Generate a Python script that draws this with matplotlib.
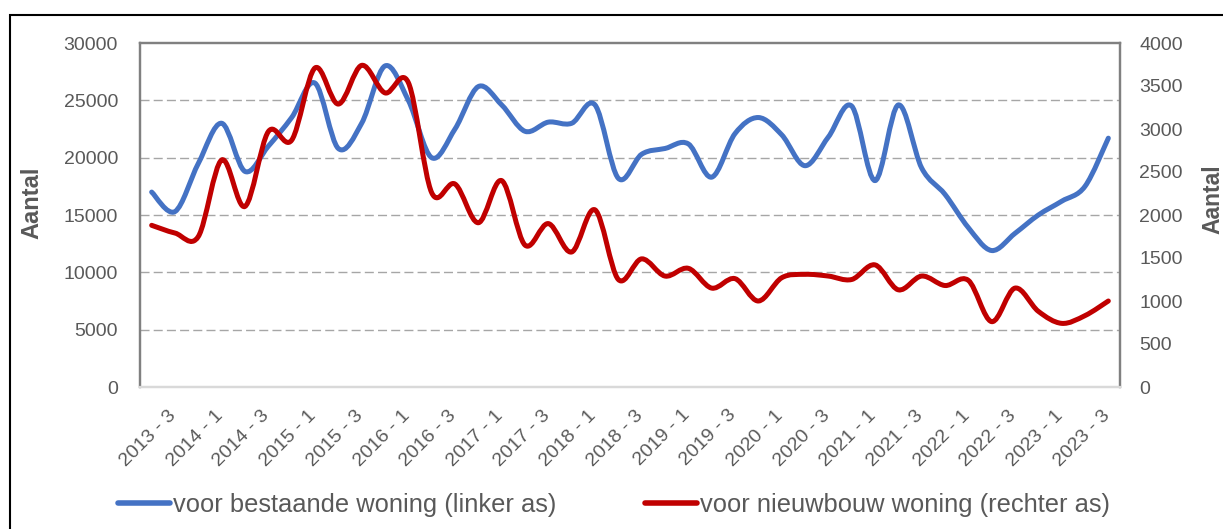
import numpy as np
import matplotlib
matplotlib.use("Agg")
from matplotlib import pyplot as plt
from matplotlib.path import Path
from matplotlib.patches import PathPatch, Rectangle
from matplotlib.lines import Line2D
from matplotlib.transforms import ScaledTranslation

quarters = ["2013 - 3", "2013 - 4",
            "2014 - 1", "2014 - 2", "2014 - 3", "2014 - 4",
            "2015 - 1", "2015 - 2", "2015 - 3", "2015 - 4",
            "2016 - 1", "2016 - 2", "2016 - 3", "2016 - 4",
            "2017 - 1", "2017 - 2", "2017 - 3", "2017 - 4",
            "2018 - 1", "2018 - 2", "2018 - 3", "2018 - 4",
            "2019 - 1", "2019 - 2", "2019 - 3", "2019 - 4",
            "2020 - 1", "2020 - 2", "2020 - 3", "2020 - 4",
            "2021 - 1", "2021 - 2", "2021 - 3", "2021 - 4",
            "2022 - 1", "2022 - 2", "2022 - 3", "2022 - 4",
            "2023 - 1", "2023 - 2", "2023 - 3", "2023 - 4"]

bestaand = [17000, 15300, 19500, 23000, 18800, 21000, 23500, 26500, 20800, 23000,
            28000, 25000, 20000, 22500, 26200, 24600, 22300, 23100, 23000, 24600,
            18200, 20300, 20800, 21200, 18300, 22100, 23500, 22000, 19300, 21800,
            24500, 18000, 24600, 19100, 16800, 13900, 11900, 13400, 15000, 16200,
            17500, 21700]

nieuwbouw = [1880, 1790, 1750, 2640, 2100, 2970, 2870, 3710, 3290, 3740,
             3420, 3540, 2260, 2360, 1910, 2400, 1650, 1900, 1570, 2060,
             1250, 1490, 1290, 1380, 1150, 1260, 1000, 1270, 1310, 1290,
             1250, 1420, 1130, 1290, 1180, 1240, 760, 1150, 880, 740,
             830, 1000]

labels = ["voor bestaande woning (linker as)", "voor nieuwbouw woning (rechter as)"]

BLUE = "#4472C4"
RED = "#C00000"
TXT = "#595959"

plt.rcParams["font.family"] = ["Liberation Sans", "DejaVu Sans"]


def smooth_path(vals):
    # bezier through the points, like excel's smoothed line
    pts = np.column_stack([np.arange(len(vals)), vals]).astype(float)
    ext = np.vstack([pts[0], pts, pts[-1]])
    verts = [pts[0]]
    codes = [Path.MOVETO]
    for i in range(len(pts) - 1):
        p0, p1, p2, p3 = ext[i], ext[i + 1], ext[i + 2], ext[i + 3]
        verts += [p1 + (p2 - p0) / 6, p2 - (p3 - p1) / 6, p2]
        codes += [Path.CURVE4] * 3
    return Path(verts, codes)


W, H = 1223, 529
fig = plt.figure(figsize=(W / 100, H / 100), dpi=100)
ax = fig.add_axes([140 / W, 1 - 387 / H, 980 / W, 344 / H])
ax2 = ax.twinx()

x = np.arange(len(quarters))
ax.set_xlim(-0.5, len(quarters) - 0.5)
ax.set_ylim(0, 30000)
ax2.set_ylim(0, 4000)
ax.set_yticks(np.arange(0, 30001, 5000))
ax2.set_yticks(np.arange(0, 4001, 500))

for y in range(5000, 30000, 5000):
    ax.axhline(y, color="#A6A6A6", lw=1.0, ls=(0, (6.5, 3)), zorder=1)

ax.add_patch(PathPatch(smooth_path(bestaand), fill=False, edgecolor=BLUE, lw=3.6,
                       capstyle="round", joinstyle="round", zorder=3))
ax2.add_patch(PathPatch(smooth_path(nieuwbouw), fill=False, edgecolor=RED, lw=3.6,
                        capstyle="round", joinstyle="round", zorder=3))

for a in (ax, ax2):
    for side in ("left", "right", "top"):
        a.spines[side].set_color("#808080")
        a.spines[side].set_linewidth(1.6)
    a.spines["bottom"].set_color("#D9D9D9")
    a.spines["bottom"].set_linewidth(1.6)

ax.tick_params(axis="y", length=0, pad=15.8, labelsize=14, labelcolor=TXT)
ax2.tick_params(axis="y", length=0, pad=14.0, labelsize=14, labelcolor=TXT)
ax.set_xticks(x[::2], quarters[::2], rotation=45, ha="right", va="center",
              rotation_mode="anchor")
ax.tick_params(axis="x", length=0, pad=18.5, labelsize=14, labelcolor=TXT)
shift = ScaledTranslation(0.22, 0, fig.dpi_scale_trans)
for lab in ax.get_xticklabels():
    lab.set_transform(lab.get_transform() + shift)

fig.text(32 / W, 1 - 203 / H, "Aantal", rotation=90, ha="center", va="center",
         fontsize=17, fontweight="bold", color=TXT)
fig.text(1213 / W, 1 - 199 / H, "Aantal", rotation=90, ha="center", va="center",
         fontsize=16.5, fontweight="bold", color=TXT)

handles = [Line2D([], [], color=BLUE, lw=4, solid_capstyle="round"),
           Line2D([], [], color=RED, lw=4, solid_capstyle="round")]
fig.legend(handles, labels, loc="center", bbox_to_anchor=(614 / W, 1 - 505 / H), ncol=2,
           frameon=False, fontsize=18.4, handlelength=2.0, handletextpad=0.12,
           columnspacing=3.5, labelcolor=TXT)

# outer chart border
fig.add_artist(Rectangle((10 / W, -0.1), 1.2, 1 - 15 / H + 0.1, transform=fig.transFigure,
                         fill=False, edgecolor="black", lw=1.5))

fig.savefig("out.png", dpi=100)
